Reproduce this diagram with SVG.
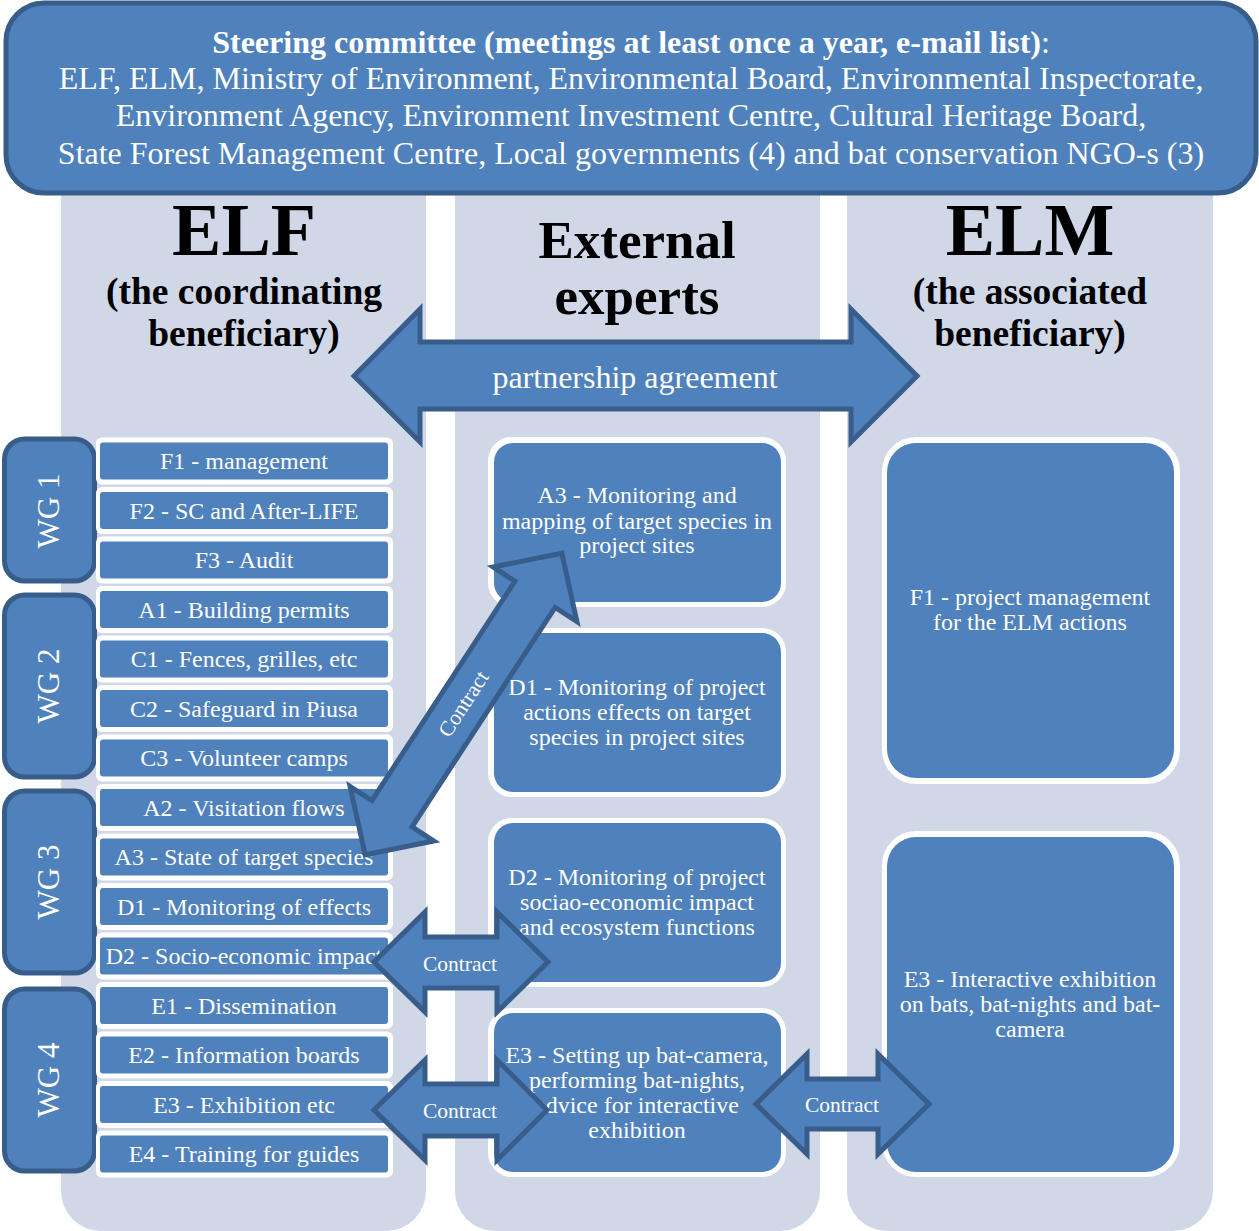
<svg xmlns="http://www.w3.org/2000/svg" width="1259" height="1231" viewBox="0 0 1259 1231">
<style>
.col{fill:#D0D8E8}
.blue{fill:#4F81BD}
.dk{fill:#4F81BD;stroke:#385D8A;stroke-width:5;stroke-linejoin:miter}
.wg{fill:#4F81BD;stroke:#385D8A;stroke-width:5}
.wb{fill:#FFFFFF}
.t{font-family:"Liberation Serif","Times New Roman",serif;fill:#FFFFFF;text-anchor:middle}
.h{font-family:"Liberation Serif","Times New Roman",serif;fill:#000000;text-anchor:middle;font-weight:bold}
.it{font-size:24px}
.bx{font-size:24px}
.ct{font-size:21.5px}
.wgt{font-size:31px}
</style>
<rect width="1259" height="1231" fill="#FFFFFF"/>
<g id="columns">
<rect class="col" x="61" y="120" width="365" height="1111" rx="40"/>
<rect class="col" x="455" y="120" width="365" height="1111" rx="40"/>
<rect class="col" x="847" y="120" width="366" height="1111" rx="40"/>
</g>
<g id="header">
<rect x="6" y="3" width="1250" height="190" rx="38" fill="#4F81BD" stroke="#385D8A" stroke-width="5"/>
<text class="t" x="631" y="53" font-size="32"><tspan font-weight="bold">Steering committee (meetings at least once a year, e-mail list)</tspan>:</text>
<text class="t" x="631" y="89" font-size="32">ELF, ELM, Ministry of Environment, Environmental Board, Environmental Inspectorate,</text>
<text class="t" x="631" y="126" font-size="32">Environment Agency, Environment Investment Centre, Cultural Heritage Board,</text>
<text class="t" x="631" y="164" font-size="32">State Forest Management Centre, Local governments (4) and bat conservation NGO-s (3)</text>
</g>
<g id="headings">
<text class="h" x="244" y="255" font-size="74">ELF</text>
<text class="h" x="244" y="304" font-size="37.5">(the coordinating</text>
<text class="h" x="244" y="346" font-size="37.5">beneficiary)</text>
<text class="h" x="637" y="258" font-size="53">External</text>
<text class="h" x="637" y="314" font-size="53">experts</text>
<text class="h" x="1030" y="255" font-size="74">ELM</text>
<text class="h" x="1030" y="304" font-size="37.5">(the associated</text>
<text class="h" x="1030" y="346" font-size="37.5">beneficiary)</text>
</g>
<g id="wg-groups">
<g id="wg1"><rect class="wg" x="4.5" y="439" width="90" height="142" rx="20"/><text class="t wgt" transform="translate(59,511) rotate(-90)">WG 1</text></g>
<g id="wg2"><rect class="wg" x="4.5" y="595" width="90" height="182" rx="20"/><text class="t wgt" transform="translate(59,686) rotate(-90)">WG 2</text></g>
<g id="wg3"><rect class="wg" x="4.5" y="791" width="90" height="182" rx="20"/><text class="t wgt" transform="translate(59,882) rotate(-90)">WG 3</text></g>
<g id="wg4"><rect class="wg" x="4.5" y="989" width="90" height="182" rx="20"/><text class="t wgt" transform="translate(59,1080) rotate(-90)">WG 4</text></g>
</g>
<g id="elf-actions">
<g id="f1"><rect class="wb" x="96" y="437.5" width="297" height="47" rx="6"/><rect class="blue" x="100" y="442.5" width="288" height="37" rx="3"/><text class="t it" x="244" y="469">F1 - management</text></g>
<g id="f2"><rect class="wb" x="96" y="487" width="297" height="47" rx="6"/><rect class="blue" x="100" y="492" width="288" height="37" rx="3"/><text class="t it" x="244" y="518.5">F2 - SC and After-LIFE</text></g>
<g id="f3"><rect class="wb" x="96" y="536.5" width="297" height="47" rx="6"/><rect class="blue" x="100" y="541.5" width="288" height="37" rx="3"/><text class="t it" x="244" y="568">F3 - Audit</text></g>
<g id="a1"><rect class="wb" x="96" y="586" width="297" height="47" rx="6"/><rect class="blue" x="100" y="591" width="288" height="37" rx="3"/><text class="t it" x="244" y="617.5">A1 - Building permits</text></g>
<g id="c1"><rect class="wb" x="96" y="635.5" width="297" height="47" rx="6"/><rect class="blue" x="100" y="640.5" width="288" height="37" rx="3"/><text class="t it" x="244" y="667">C1 - Fences, grilles, etc</text></g>
<g id="c2"><rect class="wb" x="96" y="685" width="297" height="47" rx="6"/><rect class="blue" x="100" y="690" width="288" height="37" rx="3"/><text class="t it" x="244" y="716.5">C2 - Safeguard in Piusa</text></g>
<g id="c3"><rect class="wb" x="96" y="734.5" width="297" height="47" rx="6"/><rect class="blue" x="100" y="739.5" width="288" height="37" rx="3"/><text class="t it" x="244" y="766">C3 - Volunteer camps</text></g>
<g id="a2"><rect class="wb" x="96" y="784" width="297" height="47" rx="6"/><rect class="blue" x="100" y="789" width="288" height="37" rx="3"/><text class="t it" x="244" y="815.5">A2 - Visitation flows</text></g>
<g id="a3"><rect class="wb" x="96" y="833.5" width="297" height="47" rx="6"/><rect class="blue" x="100" y="838.5" width="288" height="37" rx="3"/><text class="t it" x="244" y="865">A3 - State of target species</text></g>
<g id="d1"><rect class="wb" x="96" y="883" width="297" height="47" rx="6"/><rect class="blue" x="100" y="888" width="288" height="37" rx="3"/><text class="t it" x="244" y="914.5">D1 - Monitoring of effects</text></g>
<g id="d2"><rect class="wb" x="96" y="932.5" width="297" height="47" rx="6"/><rect class="blue" x="100" y="937.5" width="288" height="37" rx="3"/><text class="t it" x="244" y="964">D2 - Socio-economic impact</text></g>
<g id="e1"><rect class="wb" x="96" y="982" width="297" height="47" rx="6"/><rect class="blue" x="100" y="987" width="288" height="37" rx="3"/><text class="t it" x="244" y="1013.5">E1 - Dissemination</text></g>
<g id="e2"><rect class="wb" x="96" y="1031.5" width="297" height="47" rx="6"/><rect class="blue" x="100" y="1036.5" width="288" height="37" rx="3"/><text class="t it" x="244" y="1063">E2 - Information boards</text></g>
<g id="e3"><rect class="wb" x="96" y="1081" width="297" height="47" rx="6"/><rect class="blue" x="100" y="1086" width="288" height="37" rx="3"/><text class="t it" x="244" y="1112.5">E3 - Exhibition etc</text></g>
<g id="e4"><rect class="wb" x="96" y="1130.5" width="297" height="47" rx="6"/><rect class="blue" x="100" y="1135.5" width="288" height="37" rx="3"/><text class="t it" x="244" y="1162">E4 - Training for guides</text></g>
</g>
<g id="expert-actions">
<g id="x-a3"><rect class="wb" x="488" y="437" width="298" height="170" rx="24"/><rect class="blue" x="494" y="443" width="287" height="159" rx="19"/>
<text class="t bx" x="637" y="503">A3 - Monitoring and</text><text class="t bx" x="637" y="529">mapping of target species in</text><text class="t bx" x="637" y="553">project sites</text></g>
<g id="x-d1"><rect class="wb" x="488" y="628" width="298" height="169" rx="24"/><rect class="blue" x="494" y="633" width="287" height="159" rx="19"/>
<text class="t bx" x="637" y="695">D1 - Monitoring of project</text><text class="t bx" x="637" y="720">actions effects on target</text><text class="t bx" x="637" y="745">species in project sites</text></g>
<g id="x-d2"><rect class="wb" x="488" y="818" width="298" height="169" rx="24"/><rect class="blue" x="494" y="823" width="287" height="159" rx="19"/>
<text class="t bx" x="637" y="885">D2 - Monitoring of project</text><text class="t bx" x="637" y="910">sociao-economic impact</text><text class="t bx" x="637" y="935">and ecosystem functions</text></g>
<g id="x-e3"><rect class="wb" x="488" y="1008" width="298" height="169" rx="24"/><rect class="blue" x="494" y="1013" width="287" height="159" rx="19"/>
<text class="t bx" x="637" y="1063">E3 - Setting up bat-camera,</text><text class="t bx" x="637" y="1088">performing bat-nights,</text><text class="t bx" x="637" y="1113">advice for interactive</text><text class="t bx" x="637" y="1138">exhibition</text></g>
</g>
<g id="elm-actions">
<g id="m-f1"><rect class="wb" x="882" y="437" width="298" height="347" rx="34"/><rect class="blue" x="887" y="443" width="287" height="335" rx="29"/>
<text class="t bx" x="1030" y="605">F1 - project management</text><text class="t bx" x="1030" y="630">for the ELM actions</text></g>
<g id="m-e3"><rect class="wb" x="882" y="831" width="298" height="346" rx="34"/><rect class="blue" x="887" y="837" width="287" height="335" rx="29"/>
<text class="t bx" x="1030" y="987">E3 - Interactive exhibition</text><text class="t bx" x="1030" y="1012">on bats, bat-nights and bat-</text><text class="t bx" x="1030" y="1037">camera</text></g>
</g>
<g id="connectors">
<g id="partnership">
<polygon class="dk" points="354,376 420,309 420,342 851,342 851,309 917,376 851,442 851,409 420,409 420,442"/>
<text class="t" x="635" y="388" font-size="32">partnership agreement</text>
</g>
<g id="contract-a3" transform="translate(463.5,704) rotate(-56.9)">
<polygon class="dk" points="-180,0 -131,-50 -131,-24 131,-24 131,-50 180,0 131,50 131,24 -131,24 -131,50"/>
<text class="t ct" x="0" y="7">Contract</text>
</g>
<g id="contract-d2">
<polygon class="dk" points="374,962 425,912 425,937 497,937 497,912 548,962 497,1012 497,988 425,988 425,1012"/>
<text class="t ct" x="460" y="971">Contract</text>
</g>
<g id="contract-e3">
<polygon class="dk" points="374,1110 425,1060 425,1084 497,1084 497,1060 547,1110 497,1160 497,1136 425,1136 425,1160"/>
<text class="t ct" x="460" y="1118">Contract</text>
</g>
<g id="contract-elm">
<polygon class="dk" points="756,1104 807,1054 807,1079 878,1079 878,1054 929,1104 878,1154 878,1129 807,1129 807,1154"/>
<text class="t ct" x="842" y="1112">Contract</text>
</g>
</g>
</svg>
